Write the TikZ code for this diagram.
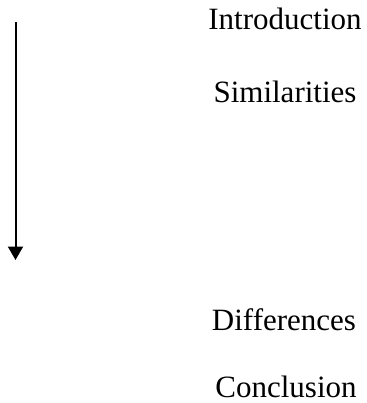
\documentclass[tikz,border=0pt]{standalone}
\usepackage{fontspec}
\setmainfont{Liberation Serif}
\usetikzlibrary{arrows.meta}
\begin{document}
\begin{tikzpicture}[x=1pt,y=-1pt,
  label/.style={anchor=base,inner sep=0pt,font=\fontsize{31}{37}\selectfont},
  flow/.style={line width=2pt,-{Triangle[width=15pt,length=13.5pt]}}]
\useasboundingbox (0,0) rectangle (366,403);
\node[label] (intro) at (285,30) {Introduction};
\node[label] (sim) at (285,103) {Similarities};
\node[label] (diff) at (284,330) {Differences};
\node[label] (conc) at (286,397) {Conclusion};
\coordinate (top) at (15.5,22);
\coordinate (bot) at (15.5,260);
\draw[flow] (top) -- (bot);
\end{tikzpicture}
\end{document}
